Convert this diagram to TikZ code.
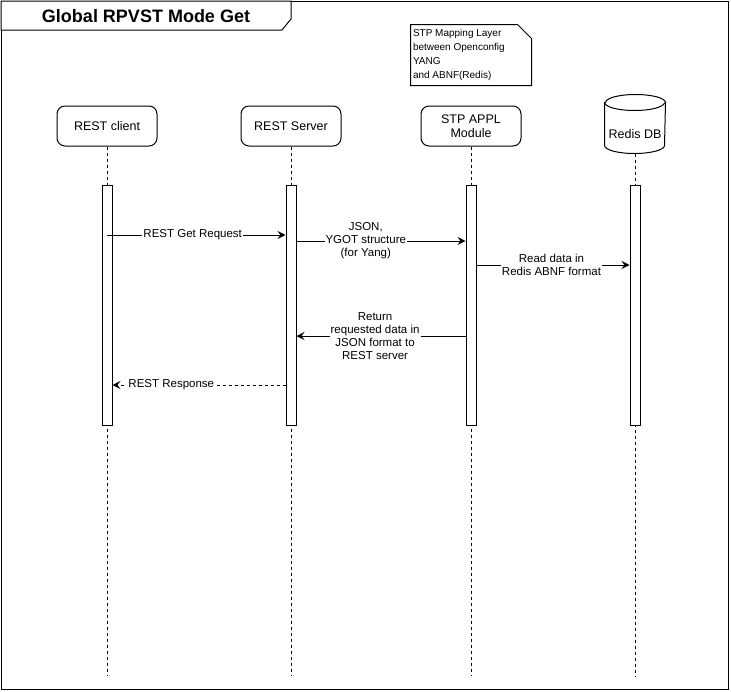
\documentclass[tikz,border=0pt]{standalone}
\usepackage{fontspec}
\setmainfont{Liberation Sans}
\usetikzlibrary{arrows.meta}

\begin{document}
\begin{tikzpicture}[x=1pt, y=-1pt, line width=1pt,
  actor/.style={draw, fill=white, rounded corners=8pt, minimum width=100pt, minimum height=40pt, align=center, font=\fontsize{12.5}{14.5}\selectfont},
  bar/.style={draw, fill=white, minimum width=10pt, minimum height=240pt, inner sep=0pt},
  life/.style={dash pattern=on 3pt off 3pt},
  msg/.style={-{Stealth[length=8pt, width=8pt, inset=3pt]}},
  lbl/.style={fill=white, inner sep=1pt, align=center, font=\fontsize{11.5}{13}\selectfont}]
\useasboundingbox (0,0) rectangle (731,691);

% Frame and title
\draw (1,1) rectangle (728,689);
\draw[fill=white] (1,1) -- (291,1) -- (291,19) -- (282,30) -- (1,30) -- cycle;
\node[font=\bfseries\fontsize{18}{20}\selectfont] (title) at (146,16) {Global RPVST Mode Get};

% Note
\node[minimum width=120pt, minimum height=60pt, inner sep=0pt] (note) at (471,55) {};
\draw[fill=white] (note.north west) -- ([xshift=-14pt]note.north east) -- ([yshift=-14pt]note.north east) -- (note.south east) -- (note.south west) -- cycle;
\node[anchor=west, align=left, inner sep=0pt, font=\fontsize{10}{14}\selectfont] (notetext) at ([xshift=2pt]note.west) {STP Mapping Layer\\between Openconfig\\YANG\\and ABNF(Redis)};

% Actors
\node[actor] (client) at (107,126) {REST client};
\node[actor] (server) at (291,126) {REST Server};
\node[actor] (stp) at (471,126) {STP APPL\\Module};
\node[minimum width=60pt, minimum height=58pt, inner sep=0pt] (redis) at (635,124) {};
\draw[fill=white] ([yshift=-8pt]redis.north west) -- ([yshift=8pt]redis.south west)
  arc[start angle=180, end angle=360, x radius=30pt, y radius=8pt] -- ([yshift=-8pt]redis.north east)
  arc[start angle=0, end angle=180, x radius=30pt, y radius=8pt] -- cycle;
\draw ([yshift=-8pt]redis.north west) arc[start angle=180, end angle=360, x radius=30pt, y radius=8pt];
\node[font=\fontsize{12.5}{14.5}\selectfont] (redistext) at ([yshift=-10pt]redis.center) {Redis DB};

% Lifelines and activations
\foreach \a/\b in {client/clientbar, server/serverbar, stp/stpbar, redis/redisbar} {
  \draw[life] (\a.south) -- (\a.south |- 0,676);
  \node[bar] (\b) at (\a.south |- 0,305) {};
}

% Messages
\draw[msg] (clientbar.center |- 0,235) -- node[lbl, pos=0.48] {REST Get Request} (serverbar.west |- 0,235);
\draw[msg] (serverbar.east |- 0,241) -- node[lbl, pos=0.41] {JSON,\\YGOT structure\\(for Yang)} (stpbar.west |- 0,241);
\draw[msg] (stpbar.east |- 0,265) -- node[lbl, pos=0.49] {Read data in\\Redis ABNF format} (redisbar.west |- 0,265);
\draw[msg] (stpbar.west |- 0,336) -- node[lbl, pos=0.535] {Return\\requested data in\\JSON format to\\REST server} (serverbar.east |- 0,336);
\draw[msg, life] (serverbar.west |- 0,385) -- node[lbl, pos=0.66] {REST Response} (clientbar.east |- 0,385);
\end{tikzpicture}
\end{document}
